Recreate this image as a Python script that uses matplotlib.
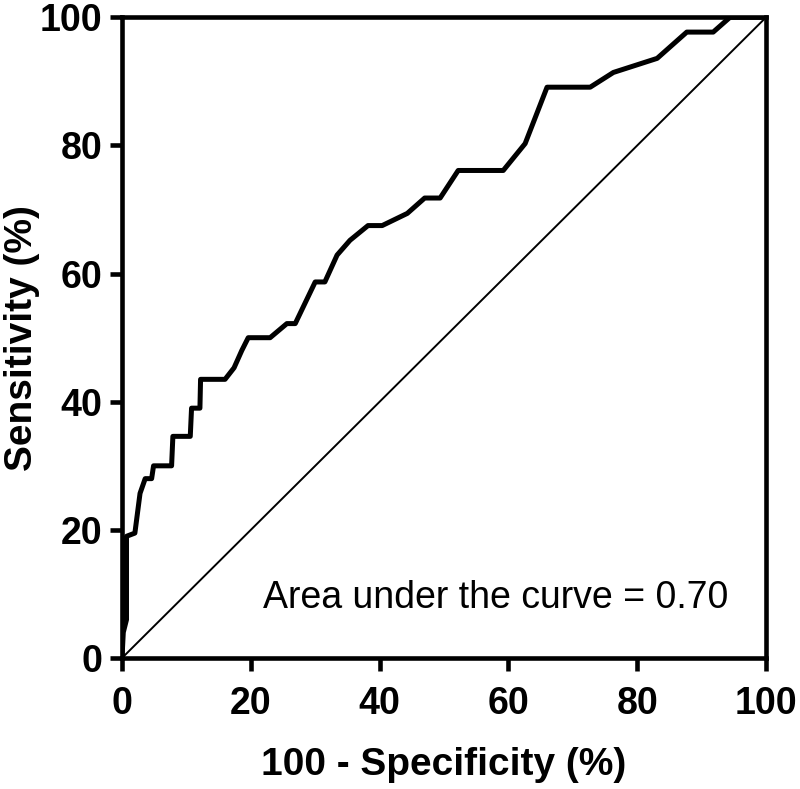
import matplotlib
matplotlib.use('Agg')
import matplotlib.pyplot as plt

# ROC curve points (100 - specificity, sensitivity)
fpr = [0, 0.2, 0.7, 0.7, 2.0, 2.8, 3.6, 4.6, 4.9, 7.7, 7.9, 10.6, 10.8, 12.1, 12.2,
       16.0, 17.4, 18.6, 19.6, 23.0, 25.6, 26.9, 30.0, 31.5, 33.4, 35.4, 38.2, 40.4,
       44.3, 47.0, 49.4, 52.2, 59.2, 62.6, 66.0, 72.7, 76.3, 83.1, 87.7, 91.8, 94.4, 100]
sens = [0, 4.0, 6.0, 19.0, 19.5, 25.7, 28.0, 28.0, 30.0, 30.0, 34.6, 34.6, 39.0, 39.0, 43.5,
        43.5, 45.3, 48.0, 50.0, 50.0, 52.2, 52.2, 58.7, 58.7, 62.9, 65.2, 67.5, 67.5,
        69.4, 71.8, 71.8, 76.1, 76.1, 80.3, 89.1, 89.1, 91.4, 93.6, 97.7, 97.7, 100, 100]
ticks = [0, 20, 40, 60, 80, 100]
auc_text = 'Area under the curve = 0.70'

plt.rcParams['font.family'] = ['Liberation Sans', 'DejaVu Sans']

fig = plt.figure(figsize=(8, 7.89), dpi=100)
ax = fig.add_axes([0.1525, 0.166, 0.805, 0.812])

ax.plot([0, 100], [0, 100], color='black', linewidth=1.4)
ax.plot(fpr, sens, color='black', linewidth=3.6, solid_joinstyle='round')

ax.set_xlim(0, 100)
ax.set_ylim(0, 100)
ax.set_xticks(ticks)
ax.set_yticks(ticks)
for sp in ax.spines.values():
    sp.set_linewidth(3.3)
ax.tick_params(width=3.3, length=9, direction='out', labelsize=27)
ax.tick_params(axis='x', pad=11)
ax.tick_params(axis='y', pad=5)
for lab in ax.get_xticklabels() + ax.get_yticklabels():
    lab.set_fontweight('bold')

ax.set_xlabel('100 - Specificity (%)', fontsize=28, fontweight='bold', labelpad=18)
ax.set_ylabel('Sensitivity (%)', fontsize=28, fontweight='bold')
ax.yaxis.set_label_coords(-0.127, 0.5)
ax.text(94.1, 9.4, auc_text, fontsize=27, ha='right', va='center')

fig.savefig('out.png', dpi=100)
